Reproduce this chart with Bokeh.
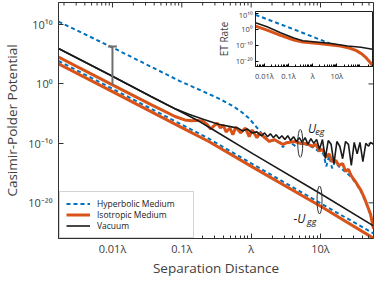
import numpy as np
from bokeh.plotting import figure
from bokeh.models import Range1d, FixedTicker, Legend, LegendItem, GridBox
from bokeh.core.properties import value
from bokeh.embed import file_html
from bokeh.resources import INLINE

FONT = "Open Sans"
BLUE = "#0072BD"
ORANGE = "#D95319"
BLACK = "#1a1a1a"

# ---------------- main panel: log10(separation/λ), log10(|potential|) ----------------
# hyperbolic medium, U_eg (upper blue dashed, merges into oscillating far field)
hyp_eg_lx = [-2.778, -2.0, -1.028, -0.472, -0.264, -0.125, -0.028, 0.042, 0.111, 0.167,
             0.222, 0.292, 0.361, 0.417, 0.458, 0.5, 0.583, 0.639, 0.681, 0.778, 0.889,
             0.986, 1.042, 1.083, 1.125, 1.167, 1.208, 1.264, 1.361, 1.444, 1.514, 1.583,
             1.639, 1.681, 1.722, 1.75, 1.764]
hyp_eg_ly = [10.48, 6.13, 0.48, -2.42, -3.71, -4.84, -5.81, -6.77, -7.74, -8.55,
             -9.19, -9.52, -9.52, -9.84, -10.65, -9.84, -10.0, -10.48, -9.84, -10.16, -10.65,
             -11.45, -11.77, -13.87, -12.10, -14.19, -13.06, -13.87, -14.84, -15.65, -16.77, -18.06,
             -19.52, -20.81, -22.10, -23.71, -24.52]
# hyperbolic medium, -U_gg
hyp_gg_lx = [-2.778, -2.0, -0.986, -0.611, 0.028, 1.014, 1.764]
hyp_gg_ly = [3.87, -0.81, -6.94, -9.19, -13.55, -20.16, -25.16]

# isotropic medium, U_eg
iso_eg_lx = [-2.778, -2.0, -1.444, -1.097, -0.958, -0.861, -0.778, -0.694, -0.639, -0.583,
             -0.542, -0.486, -0.444, -0.403, -0.361, -0.306, -0.264, -0.222, -0.153, -0.083,
             -0.028, 0.014, 0.083, 0.125, 0.194, 0.264, 0.333, 0.403, 0.458, 0.528, 0.639,
             0.708, 0.778, 0.889, 0.931, 0.986, 1.028, 1.083, 1.125, 1.167, 1.222, 1.264,
             1.319, 1.361, 1.403, 1.444, 1.514, 1.583, 1.639, 1.681, 1.722, 1.75, 1.764]
iso_eg_ly = [4.52, -0.16, -3.47, -5.48, -6.05, -6.21, -6.13, -6.29, -6.77, -7.58,
             -7.10, -6.61, -7.42, -6.94, -8.06, -7.42, -8.55, -7.26, -8.23, -7.42,
             -8.87, -7.74, -9.03, -8.23, -9.03, -9.68, -9.35, -9.84, -10.16, -9.84, -9.68,
             -10.0, -10.0, -10.48, -10.16, -11.29, -10.97, -12.26, -11.77, -13.06, -12.90, -13.71,
             -13.39, -14.68, -14.35, -15.48, -16.61, -17.90, -19.35, -20.65, -21.94, -23.55, -24.35]
# isotropic medium, -U_gg
iso_gg_lx = [-2.778, -2.0, -0.986, -0.611, 0.028, 1.014, 1.764]
iso_gg_ly = [3.39, -1.29, -7.42, -9.68, -14.03, -20.65, -25.97]

# vacuum, U_eg
vac_eg_lx = [-2.778, -2.0, -1.444, -1.097, -0.889, -0.681, -0.472, -0.264, -0.194, -0.125,
             -0.056, 0.014, 0.083, 0.111, 0.153, 0.194, 0.236, 0.278, 0.319, 0.361, 0.403,
             0.444, 0.486, 0.528, 0.569, 0.611, 0.653, 0.694, 0.736, 0.778, 0.819, 0.861,
             0.903, 0.944, 0.986, 1.028, 1.069, 1.111, 1.153, 1.194, 1.236, 1.278, 1.319,
             1.361, 1.403, 1.444, 1.486, 1.528, 1.569, 1.611, 1.653, 1.694, 1.722, 1.764]
vac_eg_ly = [5.97, 1.29, -2.10, -4.19, -5.16, -5.97, -6.77, -7.26, -7.42, -7.90,
             -7.58, -8.23, -8.06, -8.39, -8.71, -8.23, -8.87, -8.39, -9.03, -8.55, -9.19,
             -8.71, -9.35, -8.71, -9.52, -8.87, -9.68, -9.03, -9.84, -9.03, -10.16, -9.19,
             -10.0, -9.35, -10.97, -9.35, -12.58, -9.52, -10.16, -13.39, -9.68, -10.48, -12.58,
             -9.68, -10.16, -13.71, -9.84, -11.77, -9.84, -13.06, -10.0, -10.48, -9.84, -10.16]
# vacuum, -U_gg
vac_gg_lx = [-2.778, -2.0, -1.444, -0.986, -0.75, -0.542, 0.028, 1.014, 1.764]
vac_gg_ly = [5.97, 1.29, -2.10, -4.84, -6.29, -7.74, -11.77, -18.55, -23.87]

# ---------------- inset: ET rate ----------------
et_hyp_lx = [-2.37, -0.778, 0.704]
et_hyp_ly = [9.17, 0.0, -8.75]
et_iso_lx = [-2.37, -1.889, -1.333, -0.778, -0.407, 0.148, 0.704, 1.148, 1.519, 1.815, 2.037, 2.222, 2.37, 2.481]
et_iso_ly = [2.08, -0.42, -3.75, -6.67, -7.92, -8.75, -9.58, -10.42, -11.67, -13.33, -15.42, -17.92, -20.42, -22.92]
et_vac_lx = [-2.37, -1.889, -1.333, -0.778, -0.407, 0.148, 0.704, 1.444, 2.0, 2.481]
et_vac_ly = [4.17, 1.67, -2.08, -5.42, -7.08, -7.92, -8.75, -10.42, -11.25, -12.5]

# ticks
x_ticks = [0.01, 0.1, 1.0, 10.0]
x_tick_labels = ["0.01λ", "0.1λ", "λ", "10λ"]
y_ticks = [1e-20, 1e-10, 1.0, 1e10]
y_tick_labels = ["10⁻²⁰", "10⁻¹⁰", "10⁰", "10¹⁰"]
legend_labels = ["Hyperbolic Medium", "Isotropic Medium", "Vacuum"]


def P(a):
    return 10.0 ** np.asarray(a, dtype=float)


minor = [m * 10.0 ** e for e in range(-3, 3) for m in range(2, 10)]
x_over = {t: s for t, s in zip(x_ticks, x_tick_labels)}
y_over = {t: s for t, s in zip(y_ticks, y_tick_labels)}

AX = "#303030"
XR = (10 ** -2.778, 10 ** 1.764)
YR = (10 ** -26.0, 10 ** 13.7)

# ================= main figure =================
p = figure(width=374, height=279, x_axis_type="log", y_axis_type="log",
           x_range=Range1d(*XR), y_range=Range1d(*YR),
           output_backend="svg", toolbar_location=None,
           min_border_left=54, min_border_right=1, min_border_top=2, min_border_bottom=34)
p.grid.visible = False
p.background_fill_color = "white"
p.border_fill_color = "white"
p.outline_line_color = AX
p.outline_line_width = 1

for ax in (p.xaxis[0], p.yaxis[0]):
    ax.major_tick_in = 5
    ax.major_tick_out = 0
    ax.minor_tick_in = 3
    ax.minor_tick_out = 0
    ax.axis_line_color = AX
    ax.major_tick_line_color = AX
    ax.minor_tick_line_color = AX
    ax.major_label_text_font = FONT
    ax.major_label_text_color = "#404040"
    ax.major_label_text_font_size = "11px"
    ax.axis_label_text_font = FONT
    ax.axis_label_text_font_style = "normal"
    ax.axis_label_text_color = "#404040"
    ax.axis_label_text_font_size = "13.5px"

p.xaxis.ticker = FixedTicker(ticks=x_ticks, minor_ticks=minor)
p.xaxis.major_label_overrides = x_over
p.xaxis.axis_label = "Separation Distance"
p.xaxis.major_label_standoff = 2
p.xaxis.axis_label_standoff = 0
p.yaxis.ticker = FixedTicker(ticks=y_ticks, minor_ticks=[])
p.yaxis.major_label_overrides = y_over
p.yaxis.axis_label = "Casimir-Polder Potential"
p.yaxis.major_label_standoff = 6
p.yaxis.axis_label_standoff = 4

# mirror ticks on top and right edges (half of each marker is clipped by the frame)
minor_in = [t for t in minor if XR[0] < t < XR[1]]
p.scatter(x_ticks, [YR[1]] * len(x_ticks), marker="dash", angle=np.pi / 2, size=10,
          line_color=AX, line_width=1)
p.scatter(minor_in, [YR[1]] * len(minor_in), marker="dash", angle=np.pi / 2, size=6,
          line_color=AX, line_width=1)
p.scatter([XR[1]] * len(y_ticks), y_ticks, marker="dash", size=10, line_color=AX, line_width=1)

# curves
r_hyp = p.line(P(hyp_eg_lx), P(hyp_eg_ly), line_color=BLUE, line_width=2, line_dash="4 3")
p.line(P(hyp_gg_lx), P(hyp_gg_ly), line_color=BLUE, line_width=2, line_dash="4 3")
r_iso = p.line(P(iso_eg_lx), P(iso_eg_ly), line_color=ORANGE, line_width=3)
p.line(P(iso_gg_lx), P(iso_gg_ly), line_color=ORANGE, line_width=3)
r_vac = p.line(P(vac_eg_lx), P(vac_eg_ly), line_color=BLACK, line_width=1.6)
p.line(P(vac_gg_lx), P(vac_gg_ly), line_color=BLACK, line_width=1.6)

# enhancement bar at 0.01λ
bar_x = [0.01]
bar_top = [10 ** 6.29]
bar_bot = [10 ** -0.16]
p.segment(bar_x, bar_bot, bar_x, bar_top, line_color="#6e6e6e", line_width=2)
p.scatter(bar_x, bar_top, marker="dash", size=9, line_color="#6e6e6e", line_width=2)

# braces and labels
p.ellipse([10 ** 0.708, 10 ** 0.986], [10 ** -10.0, 10 ** -19.52], width=5, height=28,
          width_units="screen", height_units="screen", fill_alpha=0,
          line_color=AX, line_width=1)
p.text([10 ** 0.819], [10 ** -7.42], text=["U"], text_font=value(FONT), text_font_style="italic",
       text_font_size="12px", text_baseline="middle", text_align="left", text_color="#202020")
p.text([10 ** 0.924], [10 ** -8.06], text=["eg"], text_font=value(FONT), text_font_style="italic",
       text_font_size="9px", text_baseline="middle", text_align="left", text_color="#202020")
p.text([10 ** 0.611], [10 ** -22.58], text=["-U"], text_font=value(FONT), text_font_style="italic",
       text_font_size="12px", text_baseline="middle", text_align="left", text_color="#202020")
p.text([10 ** 0.806], [10 ** -23.06], text=["gg"], text_font=value(FONT), text_font_style="italic",
       text_font_size="9px", text_baseline="middle", text_align="left", text_color="#202020")

legend = Legend(items=[LegendItem(label=legend_labels[0], renderers=[r_hyp]),
                       LegendItem(label=legend_labels[1], renderers=[r_iso]),
                       LegendItem(label=legend_labels[2], renderers=[r_vac])],
                location=(1, 0))
legend.label_text_font = FONT
legend.label_text_font_size = "8.5px"
legend.label_text_color = "#202020"
legend.glyph_width = 24
legend.glyph_height = 11
legend.label_height = 11
legend.label_width = 90
legend.label_standoff = 7
legend.spacing = 0
legend.padding = 6
legend.margin = 0
legend.border_line_color = "#a8a8a8"
legend.border_line_width = 1
legend.background_fill_alpha = 1
p.add_layout(legend)

# ================= inset =================
q = figure(width=176, height=98, x_axis_type="log", y_axis_type="log",
           x_range=Range1d(10 ** -2.37, 10 ** 2.48),
           y_range=Range1d(10 ** -23.3, 10 ** 11.25),
           output_backend="svg", toolbar_location=None,
           min_border_left=47, min_border_right=1, min_border_top=1, min_border_bottom=16)
q.grid.visible = False
q.background_fill_color = "white"
q.border_fill_alpha = 0
q.outline_line_color = "#202020"
q.outline_line_width = 1
for ax in (q.xaxis[0], q.yaxis[0]):
    ax.major_tick_in = 3
    ax.major_tick_out = 0
    ax.minor_tick_in = 2
    ax.minor_tick_out = 0
    ax.axis_line_color = "#202020"
    ax.major_label_text_font = FONT
    ax.major_label_text_color = "#404040"
    ax.major_label_text_font_size = "7.5px"
    ax.axis_label_text_font = FONT
    ax.axis_label_text_font_style = "normal"
    ax.axis_label_text_color = "#404040"
    ax.axis_label_text_font_size = "10px"
q.xaxis.ticker = FixedTicker(ticks=x_ticks, minor_ticks=minor)
q.xaxis.major_label_overrides = x_over
q.xaxis.major_label_standoff = 4
q.yaxis.ticker = FixedTicker(ticks=y_ticks, minor_ticks=[])
q.yaxis.major_label_overrides = y_over
q.yaxis.major_label_standoff = 3
q.yaxis.axis_label = "ET Rate"
q.yaxis.axis_label_standoff = 2

q.line(P(et_hyp_lx), P(et_hyp_ly), line_color=BLUE, line_width=2, line_dash="4 3")
q.line(P(et_iso_lx), P(et_iso_ly), line_color=ORANGE, line_width=3)
q.line(P(et_vac_lx), P(et_vac_ly), line_color=BLACK, line_width=1.5)

q.margin = (9, 0, 0, 197)

layout = GridBox(children=[(p, 0, 0), (q, 0, 0)])

open("out.html", "w").write(file_html(layout, INLINE))
